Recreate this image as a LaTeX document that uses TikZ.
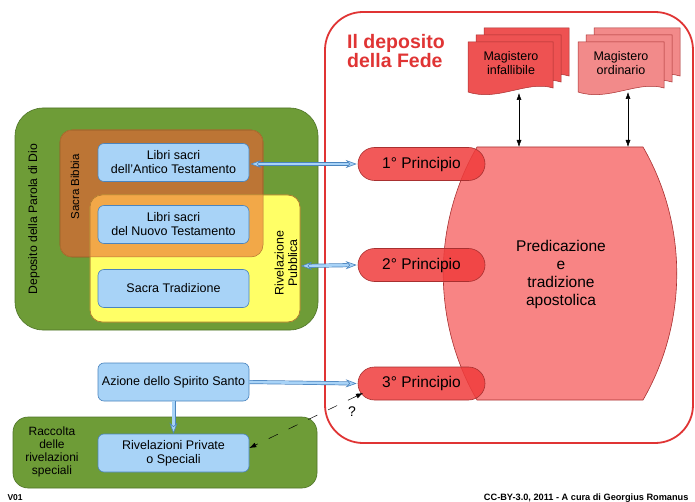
\documentclass[tikz,border=0pt]{standalone}
\usepackage{fontspec}
\setmainfont{Liberation Sans}
\usetikzlibrary{arrows.meta,shapes.misc}
\definecolor{grn}{HTML}{6E9C37}
\definecolor{grnd}{HTML}{4F7428}
\definecolor{brn}{HTML}{BC7535}
\definecolor{brnd}{HTML}{8E5524}
\definecolor{ylw}{HTML}{FFFF66}
\definecolor{ylwd}{HTML}{BFB23A}
\definecolor{org}{HTML}{F2A848}
\definecolor{bfill}{HTML}{A8D3F7}
\definecolor{bdraw}{HTML}{4A84BE}
\definecolor{rbox}{HTML}{E03434}
\definecolor{rdk}{HTML}{A83030}
\definecolor{rprin}{HTML}{F03C3C}
\definecolor{rpred}{HTML}{F88484}
\definecolor{rmi}{HTML}{EE5252}
\definecolor{rmo}{HTML}{F28A8A}
\tikzset{
  bluebox/.style={draw=bdraw, fill=bfill, rounded corners=6, line width=0.6pt,
    minimum width=151, minimum height=38, align=center,
    font=\fontsize{12.5}{14}\selectfont},
  prin/.style={draw=rdk, fill=rprin, fill opacity=0.85, text opacity=1,
    rounded corners=16.5, minimum width=127, minimum height=33, line width=0.6pt,
    font=\fontsize{15.5}{17}\selectfont},
  btip/.tip={Stealth[length=11pt,width=8pt,color=bdraw,fill=bfill,line width=0.6pt]},
  dblone/.style={
    preaction={draw=bdraw, line width=4pt, shorten >=9pt, -},
    preaction={draw=bfill, line width=2.6pt, shorten >=8pt, -},
    draw=bfill, line width=0.6pt, -btip},
  dbltwo/.style={
    preaction={draw=bdraw, line width=4pt, shorten >=9pt, shorten <=9pt, -},
    preaction={draw=bfill, line width=2.6pt, shorten >=8pt, shorten <=8pt, -},
    draw=bfill, line width=0.6pt, btip-btip},
  rot/.style={rotate=90, align=center},
  doc/.style={draw=rdk, line width=0.5pt},
  magtxt/.style={align=center, font=\fontsize{12.5}{14}\selectfont},
  blk/.style={{Latex[length=7pt,width=5pt]}-{Latex[length=7pt,width=5pt]}, line width=0.5pt},
}
\newcommand{\docshape}[5]{% x0 y0 x1 y1 fill
  \filldraw[doc, fill=#5] (#1,#2) -- (#3,#2) -- (#3,{#4-4})
    .. controls ({#3-0.3*(#3-#1)},{#4-12}) and ({#1+0.35*(#3-#1)},{#4+10}) .. (#1,#4) -- cycle;}
\begin{document}
\begin{tikzpicture}[x=1pt,y=-1pt]
\useasboundingbox (0,0) rectangle (695,502);
\fill[white] (0,0) rectangle (695,502);

% red deposito box
\draw[rbox, line width=1.8pt, rounded corners=38] (325,12) rectangle (693,443);
\node[text=rbox, font=\bfseries\fontsize{19.5}{19}\selectfont, align=left, anchor=north west,
  inner sep=0pt] (fede) at (347,34) {Il deposito\\della Fede};

% green big box
\draw[grnd, fill=grn, rounded corners=28, line width=0.6pt] (15,108) rectangle (318,330);
\node[rot, font=\fontsize{12.2}{14}\selectfont] (dep) at (34,219) {Deposito della Parola di Dio};
% brown and yellow
\draw[brnd, fill=brn, rounded corners=12, line width=0.6pt] (60,130) rectangle (263,257);
\draw[ylwd, fill=ylw, rounded corners=12, line width=0.6pt] (90,195) rectangle (300,322);
\begin{scope}
  \clip[rounded corners=12] (60,130) rectangle (263,257);
  \fill[org, rounded corners=12] (90,195) rectangle (300,322);
\end{scope}
\draw[brnd!70!org, rounded corners=12, line width=0.5pt] (90,195) rectangle (300,322);
\draw[brnd!60!org, rounded corners=12, line width=0.5pt] (60,130) rectangle (263,257);
\node[rot, font=\fontsize{11.5}{13}\selectfont] (sb) at (75,187) {Sacra Bibbia};
\node[rot, font=\fontsize{12.4}{13.5}\selectfont] (rivp) at (286,263) {Rivelazione\\Pubblica};
\coordinate (ye) at (300,266);

\node[bluebox] (ant) at (173.5,162.5) {Libri sacri\\dell'Antico Testamento};
\node[bluebox] (nuo) at (173.5,224.5) {Libri sacri\\del Nuovo Testamento};
\node[bluebox] (tra) at (173.5,288.5) {Sacra Tradizione};

% lower green box
\draw[grnd, fill=grn, rounded corners=15, line width=0.6pt] (13,417) rectangle (317,488);
\node[align=center, font=\fontsize{12}{13}\selectfont] (racc) at (52,452)
  {Raccolta\\delle\\rivelazioni\\speciali};
\node[bluebox] (azi) at (173.5,382) {Azione dello Spirito Santo};
\node[bluebox] (rp) at (173.5,453) {Rivelazioni Private\\o Speciali};

% predicazione shape
\filldraw[draw=rdk, fill=rpred, line width=0.6pt] (477,147) -- (643,147)
  .. controls (688,225) and (688,322) .. (643,400) -- (477,400)
  .. controls (432,322) and (432,225) .. cycle;
\node[font=\fontsize{15.5}{18}\selectfont, align=center] (pred) at (561,274)
  {Predicazione\\e\\tradizione\\apostolica};
\coordinate (predtop) at (560,147);

% principi
\node[prin] (p1) at (421.5,164) {1° Principio};
\node[prin] (p2) at (421.5,265) {2° Principio};
\node[prin] (p3) at (421.5,383.5) {3° Principio};

% magistero documents
\docshape{484}{28}{569}{80}{rmi}
\docshape{476}{35}{561}{86}{rmi}
\docshape{468}{42}{553}{92}{rmi}
\docshape{594}{28}{680}{80}{rmo}
\docshape{586}{35}{672}{86}{rmo}
\docshape{578}{42}{664}{92}{rmo}
\node[magtxt] (mi) at (511,63) {Magistero\\infallibile};
\node[magtxt] (mo) at (621,63) {Magistero\\ordinario};
\coordinate (mib) at (519,93);
\coordinate (mob) at (628,92);
\draw[blk] (mib) -- (mib |- predtop);
\draw[blk] (mob) -- (mob |- predtop);

% double arrows
\draw[dbltwo] ([xshift=1pt]ant.east |- p1) -- ([xshift=-1pt]p1.west);
\draw[dbltwo] ([xshift=1pt]ye) -- ([xshift=-1pt]p2.west);
\draw[dblone] (azi.east) -- ([xshift=-1pt]p3.west);
\draw[dblone] (azi.south) -- (rp.north);

% dashed question arrow
\coordinate (q) at (363,393);
\draw[blk, dash pattern=on 10pt off 12pt] (q) -- ([yshift=5pt]rp.east);
\node[font=\fontsize{14}{16}\selectfont] (qm) at (352,412) {?};

% footer
\node[font=\bfseries\fontsize{8.5}{9}\selectfont, anchor=west] (ver) at (4,498) {V01};
\node[font=\bfseries\fontsize{9.2}{10}\selectfont, anchor=east] (cc) at (692,498)
  {CC-BY-3.0, 2011 - A cura di Georgius Romanus};
\end{tikzpicture}
\end{document}
